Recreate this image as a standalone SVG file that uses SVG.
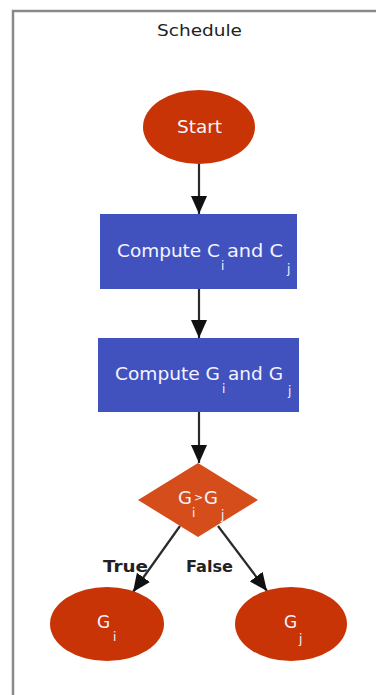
<svg xmlns="http://www.w3.org/2000/svg" width="376" height="695" viewBox="0 0 376 695">
<style>
.frame{fill:none;stroke:#8a8a8a;stroke-width:2.5}
.ell{fill:#c83405}
.box{fill:#4152bf}
.dia{fill:#d64d1c}
.edge{stroke:#2a2a2a;stroke-width:2.2;fill:none}
.t{font-family:"DejaVu Sans","Liberation Sans",sans-serif;font-size:17px;fill:#f4f4ff}
.s{font-family:"DejaVu Sans","Liberation Sans",sans-serif;font-size:12px;fill:#f4f4ff}
.title{font-family:"DejaVu Sans","Liberation Sans",sans-serif;font-size:16px;fill:#222}
.lbl{font-family:"DejaVu Sans","Liberation Sans",sans-serif;font-size:16px;font-weight:bold;fill:#222}
</style>
<defs>
<marker id="ah" viewBox="0 0 18 16" refX="18" refY="8" markerWidth="18" markerHeight="16" markerUnits="userSpaceOnUse" orient="auto">
<path d="M0,0 L18,8 L0,16 z" fill="#111"/>
</marker>
</defs>
<rect x="0" y="0" width="376" height="695" fill="#fff"/>
<path class="frame" d="M13,695 L13,11 L376,11"/>
<text class="title" x="157" y="36" textLength="85" lengthAdjust="spacingAndGlyphs">Schedule</text>
<g id="connectors">
<line class="edge" x1="199" y1="164" x2="199" y2="214" marker-end="url(#ah)"/>
<line class="edge" x1="199" y1="289" x2="199" y2="338" marker-end="url(#ah)"/>
<line class="edge" x1="199" y1="412" x2="199" y2="463" marker-end="url(#ah)"/>
<line class="edge" x1="180" y1="526" x2="133" y2="592" marker-end="url(#ah)"/>
<line class="edge" x1="218" y1="526" x2="267" y2="591" marker-end="url(#ah)"/>
<text class="lbl" x="103" y="572" textLength="45" lengthAdjust="spacingAndGlyphs">True</text>
<text class="lbl" x="186" y="572" textLength="47" lengthAdjust="spacingAndGlyphs">False</text>
</g>
<g id="start">
<ellipse class="ell" cx="199" cy="127" rx="56" ry="37"/>
<text class="t" x="177" y="133" textLength="45" lengthAdjust="spacingAndGlyphs">Start</text>
</g>
<g id="computeC">
<rect class="box" x="100" y="214" width="197" height="75"/>
<text class="t" x="117" y="257" textLength="103" lengthAdjust="spacingAndGlyphs">Compute C</text>
<text class="s" x="221" y="270">i</text>
<text class="t" x="227" y="257" textLength="56" lengthAdjust="spacingAndGlyphs">and C</text>
<text class="s" x="287" y="273">j</text>
</g>
<g id="computeG">
<rect class="box" x="98" y="338" width="201" height="74"/>
<text class="t" x="115" y="380" textLength="105" lengthAdjust="spacingAndGlyphs">Compute G</text>
<text class="s" x="222" y="393">i</text>
<text class="t" x="228" y="380" textLength="55" lengthAdjust="spacingAndGlyphs">and G</text>
<text class="s" x="288" y="395">j</text>
</g>
<g id="decision">
<polygon class="dia" points="198,463 258,500 198,537 138,500"/>
<text class="t" x="178" y="504" style="font-size:18px">G</text>
<text class="t" x="194" y="501" style="font-size:11px">&gt;</text>
<text class="t" x="204" y="504" style="font-size:18px">G</text>
<text class="s" x="192" y="517">i</text>
<text class="s" x="221" y="519">j</text>
</g>
<g id="gi">
<ellipse class="ell" cx="107" cy="624" rx="57" ry="37"/>
<text class="t" x="97" y="628">G</text>
<text class="s" x="113" y="641">i</text>
</g>
<g id="gj">
<ellipse class="ell" cx="291" cy="624" rx="56" ry="37"/>
<text class="t" x="284" y="628">G</text>
<text class="s" x="299" y="643">j</text>
</g>
</svg>
